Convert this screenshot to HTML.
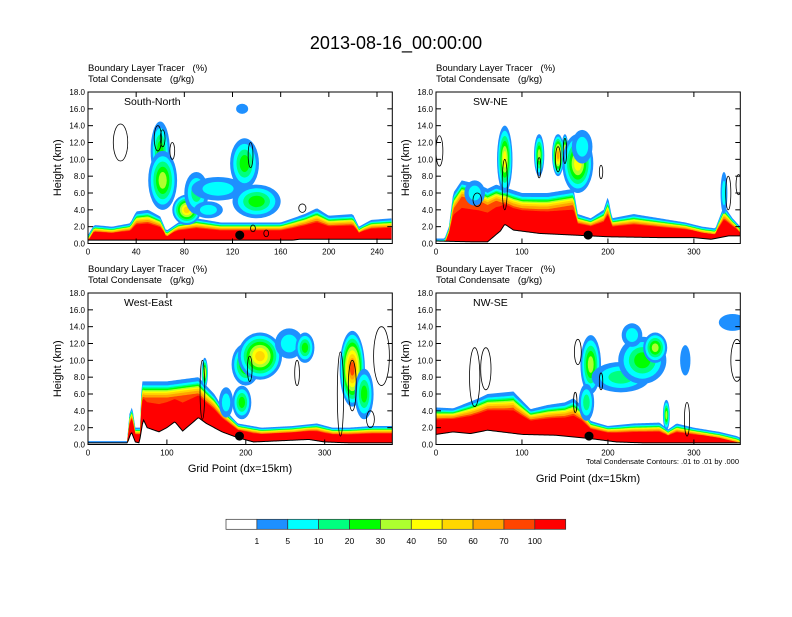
<!DOCTYPE html>
<html><head><meta charset="utf-8"><style>
body{margin:0;background:#fff;width:792px;height:612px;overflow:hidden;font-family:"Liberation Sans",Arial,sans-serif}
svg text{font-family:"Liberation Sans",Arial,sans-serif;white-space:pre}
</style></head><body>
<svg id="fig" width="792" height="612" viewBox="0 0 792 612" xmlns="http://www.w3.org/2000/svg">
<text x="396" y="49" font-size="18" text-anchor="middle">2013-08-16_00:00:00</text>
</svg>
<script>
const colors=["#ffffff","#1e90ff","#00ffff","#00ff7f","#00ff00","#adff2f","#ffff00","#ffd700","#ffa500","#ff4500","#ff0000"];
const cbLabels=["1","5","10","20","30","40","50","60","70","100"];
// Panel data: names, x-ranges, terrain and tracer-top profiles (grid point, km)
const panelNames=["South-North","SW-NE","West-East","NW-SE"];
const panelXmax=[252.7,354,385.7,354];
const panelTicks=[[0,40,80,120,160,200,240],[0,100,200,300],[0,100,200,300],[0,100,200,300]];
const terrX1=[0,170,175,252.7],terrZ1=[0.4,0.4,0.5,0.5];
const topX1=[0,5,20,35,40,50,60,65,75,90,110,140,160,180,190,200,220,225,235,252.7];
const topZ1=[1.0,2.2,2.0,2.4,3.8,4.0,3.2,1.5,2.5,3.0,2.5,2.5,2.5,3.5,4.2,3.3,3.5,2.0,2.8,3.0];
const terrX2=[0,40,60,75,80,90,120,160,200,260,300,320,340,354];
const terrZ2=[0.3,0.2,0.2,1.5,2.3,1.6,1.2,1.0,0.8,0.7,0.7,0.5,0.9,0.9];
const topX2=[0,10,15,20,30,50,60,70,100,130,160,165,180,195,200,205,230,260,290,310,325,335,345,354];
const topZ2=[0.6,0.6,2,6.0,7.5,7.0,6.5,7.0,6.0,6.0,6.5,3.5,3.0,4,5.6,3.0,3.5,3.0,2.5,2.0,1.8,4.5,3,2];
const terrX3=[0,50,55,60,65,70,75,90,100,110,120,140,150,170,190,210,280,300,330,385.7];
const terrZ3=[0.2,0.2,1.5,0.3,0.2,3.0,2.0,1.5,2.0,2.7,1.6,3.2,2.5,1.5,0.8,0.3,0.6,0.3,0.2,0.2];
const topX3=[0,50,52,56,60,66,68,100,140,160,170,190,220,260,290,310,330,360,385.7];
const topZ3=[0.4,0.4,3.5,4.5,2,2,7.5,7.5,8.0,6.0,4.5,2.5,2.0,2.2,2.5,2.0,2.0,2.2,2.2];
const terrX4=[0,20,40,60,100,140,180,210,240,300,354];
const terrZ4=[1.2,1.5,1.3,1.7,1.2,1.1,0.7,0.3,0.2,0.2,0.2];
const topX4=[0,20,50,60,90,110,130,150,160,170,180,200,230,260,270,280,300,330,350,354];
const topZ4=[4.4,4.3,5.5,6.0,6.3,4.2,4.7,5.0,5.5,4.5,2.8,2.2,2.5,2.6,1.8,2.5,2.0,1.5,1.0,0.8];
// clouds: x, z, half-width (grid), half-height (km), max colour level
const cloudX=[[60,62,82,90,108,130,140,128,100],[80,120,142,150,165,170,335,45],[200,218,255,275,335,350,195,175,148],[180,215,240,255,228,290,345,268,175]];
const cloudZ=[[11,7.5,4,6,6.5,9.5,5,16,4],[10,10.5,10.5,11,9.5,11.5,6,6],[9.5,10.5,12,11.5,9,6,5,5,8.5],[9.5,8,10,11.5,13,10,14.5,3.5,5]];
const cloudW=[[8,12,12,10,22,12,20,5,12],[9,6,7,4,18,12,4,12],[18,28,18,12,16,12,12,9,4],[12,34,28,14,12,6,16,4,9]];
const cloudH=[[3.5,3.5,1.8,2.5,1.4,3,2,0.6,1],[4,2.5,2.5,2,3.5,2,2.5,1.5],[2.5,2.8,1.8,1.8,4.5,3,2,1.8,1.8],[3.5,1.8,2.8,1.8,1.4,1.8,1,1.8,2.2]];
const cloudLv=[[4,5,7,3,2,4,4,1,2],[6,5,8,6,6,2,2,2],[5,7,2,4,9,4,4,2,6],[5,3,4,5,2,1,1,5,3]];
// condensate contour ellipses
const contX=[[27,58,62,70,135,178,137,148],[4,80,120,142,150,192,48,340,352],[145,205,265,320,335,372,358],[45,58,165,162,192,292,350]];
const contZ=[[12,12.5,12.5,11,10.5,4.2,1.8,1.2],[11,7,9,10,11,8.5,5.2,6,7],[6.5,9,8.5,6,7,10.5,3],[8,9,11,5,7.5,3,10]];
const contW=[[6,3,2,2,2,3,2,2],[4,3,2,3,2,2,5,3,3],[3,3,3,4,5,10,5],[6,6,4,2,2,3,7]];
const contH=[[2.2,1.5,1,1,1.5,0.5,0.4,0.4],[1.8,3,1.2,1.5,1.5,0.8,0.8,2,1.2],[3.5,1.5,1.5,5,3,3.5,1],[3.5,2.5,1.5,1.2,1,2,2.5]];
const dotX=[126,177,192,178];
const terrX=[terrX1,terrX2,terrX3,terrX4],terrZ=[terrZ1,terrZ2,terrZ3,terrZ4];
const topX=[topX1,topX2,topX3,topX4],topZ=[topZ1,topZ2,topZ3,topZ4];

const NS="http://www.w3.org/2000/svg";
const svg=document.getElementById('fig');
function mk(tag,attrs,parent){const e=document.createElementNS(NS,tag);for(const k in attrs)e.setAttribute(k,attrs[k]);(parent||svg).appendChild(e);return e;}
function interp(xs,zs,x){if(x<=xs[0])return zs[0];for(let i=1;i<xs.length;i++){if(x<=xs[i]){const t=(x-xs[i-1])/(xs[i]-xs[i-1]);return zs[i-1]+t*(zs[i]-zs[i-1]);}}return zs[zs.length-1];}
const origins=[[88,92],[436,92],[88,293],[436,293]];
const W=304.3,H=151.5;
const bandOff=[0,0.3,0.45,0.55,0.65,0.75,0.85,1.0,1.2];

for(let p=0;p<4;p++){
  const [x0,y0]=origins[p];
  const sx=v=>x0+v/panelXmax[p]*W, sy=z=>y0+H-z/18*H;
  const g=mk('g',{});
  
  
  const clip=mk('clipPath',{id:'c'+p},g);mk('rect',{x:x0,y:y0,width:W,height:H},clip);
  const pg=mk('g',{'clip-path':'url(#c'+p+')'},g);
  const xs=[];for(let x=0;x<=panelXmax[p]+0.01;x+=1.5)xs.push(x);
  // tracer bands
  for(let b=0;b<bandOff.length+1;b++){
    let up=[];
    for(const x of xs){const tz=interp(terrX[p],terrZ[p],x),top=interp(topX[p],topZ[p],x);
      const depth=top-tz;
      let z= b<bandOff.length? top-bandOff[b]*Math.min(1.6,Math.max(0.6,depth/3)) : tz+0.55*depth;
      if(b==bandOff.length) z=Math.min(z,top-1.2*Math.min(1.6,Math.max(0.6,depth/3)));
      up.push([x,Math.max(z,tz)]);}
    let pts=up.map(q=>sx(q[0])+','+sy(q[1]));
    for(let i=xs.length-1;i>=0;i--)pts.push(sx(xs[i])+','+sy(interp(terrX[p],terrZ[p],xs[i])));
    const poly=mk('polygon',{points:pts.join(' '),fill:colors[b+1]},pg);
    
    
  }
  // clouds
  for(let c=0;c<cloudX[p].length;c++){
    const n=cloudLv[p][c];
    for(let l=1;l<=n;l++){
      const f=1-(l-1)/(n+0.3)*0.95;
      const e=mk('ellipse',{cx:sx(cloudX[p][c]),cy:sy(cloudZ[p][c]),rx:cloudW[p][c]*f/panelXmax[p]*W,ry:cloudH[p][c]*f/18*H,fill:colors[l]},pg);
      
      
    }
  }
  // terrain line
  const tl=mk('polyline',{points:xs.map(x=>sx(x)+','+sy(interp(terrX[p],terrZ[p],x))).join(' '),fill:'none',stroke:'#000','stroke-width':1},pg);
  
  
  for(let c=0;c<contX[p].length;c++){
    const e=mk('ellipse',{cx:sx(contX[p][c]),cy:sy(contZ[p][c]),rx:contW[p][c]/panelXmax[p]*W,ry:contH[p][c]/18*H,fill:'none',stroke:'#000','stroke-width':0.8},pg);
    
    
  }
  const d=mk('circle',{cx:sx(dotX[p]),cy:sy(1.0),r:4.5,fill:'#000'},pg);
  
  
  // frame
  const fr=mk('rect',{x:x0,y:y0,width:W,height:H,fill:'none',stroke:'#000','stroke-width':1},g);
  
  
  for(let z=0;z<=18;z+=2){
    mk('line',{x1:x0,x2:x0+5,y1:sy(z),y2:sy(z),stroke:'#000'},g);
    mk('line',{x1:x0+W,x2:x0+W-5,y1:sy(z),y2:sy(z),stroke:'#000'},g);
    const t=mk('text',{x:x0-3,y:sy(z)+3,'font-size':8,'text-anchor':'end'},g);t.textContent=z.toFixed(1);
    
    
  }
  for(const v of panelTicks[p]){
    mk('line',{x1:sx(v),x2:sx(v),y1:y0+H,y2:y0+H-5,stroke:'#000'},g);
    mk('line',{x1:sx(v),x2:sx(v),y1:y0,y2:y0+5,stroke:'#000'},g);
    const t=mk('text',{x:sx(v),y:y0+H+11,'font-size':8,'text-anchor':'middle'},g);t.textContent=v;
    
    
  }
  const yl=mk('text',{x:x0-27,y:y0+H/2,'font-size':11,'text-anchor':'middle',transform:'rotate(-90 '+(x0-27)+' '+(y0+H/2)+')'},g);yl.textContent='Height (km)';
  
  
  const l1=mk('text',{x:x0,y:y0-21,'font-size':9.5},g);l1.textContent='Boundary Layer Tracer   (%)';
  
  
  const l2=mk('text',{x:x0,y:y0-10,'font-size':9.5},g);l2.textContent='Total Condensate   (g/kg)';
  
  
  const nm=mk('text',{x:x0+(p%2==0?36:37),y:y0+13,'font-size':10.5},g);nm.textContent=panelNames[p];
  
  
}
let t=mk('text',{x:240,y:472,'font-size':11,'text-anchor':'middle'});t.textContent='Grid Point (dx=15km)';


t=mk('text',{x:588,y:482,'font-size':11,'text-anchor':'middle'});t.textContent='Grid Point (dx=15km)';


t=mk('text',{x:739,y:464,'font-size':7.5,'text-anchor':'end'});t.textContent='Total Condensate Contours: .01 to .01 by .000';


// colorbar
const cb=mk('g',{});


const bw=(565.7-226)/colors.length;
colors.forEach((c,i)=>{const r=mk('rect',{x:226+i*bw,y:519.3,width:bw,height:10,fill:c,stroke:'#333','stroke-width':0.7},cb);
  
  });
cbLabels.forEach((s,i)=>{const tt=mk('text',{x:226+(i+1)*bw,y:544,'font-size':8.5,'text-anchor':'middle'},cb);tt.textContent=s;
  
  });
</script>
</body></html>
